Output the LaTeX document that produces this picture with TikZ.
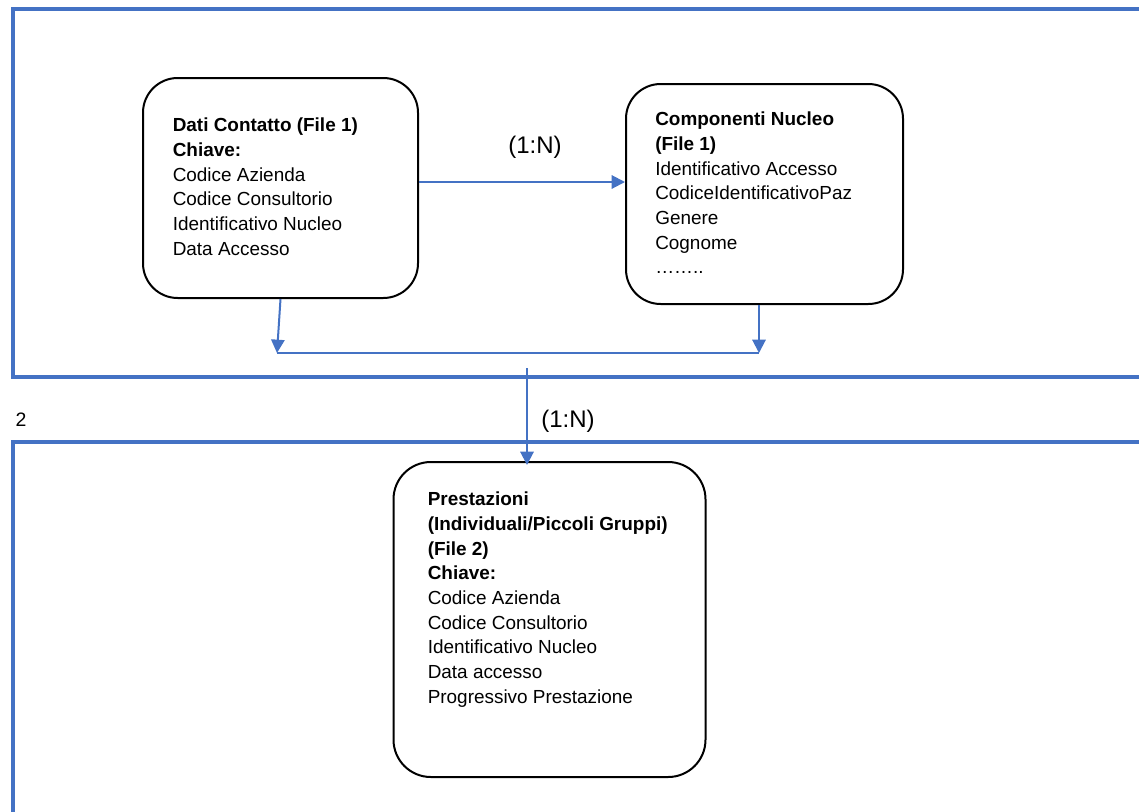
\documentclass[tikz,border=0pt]{standalone}
\usepackage{fontspec}
\setmainfont{Liberation Sans}
\usetikzlibrary{arrows.meta}
\definecolor{wordblue}{HTML}{4472C4}

\begin{document}
\begin{tikzpicture}[x=0.75pt,y=-0.75pt,
    frame/.style={wordblue,line width=3pt},
    entity/.style={draw,line width=1.5pt,rounded corners=26pt,inner sep=0pt},
    fields/.style={anchor=north west,inner sep=0pt,align=left,font=\fontsize{14.2pt}{18.5pt}\selectfont},
    link/.style={wordblue,line width=1.5pt,-{Triangle[length=10pt,width=10pt]}},
    card/.style={font=\fontsize{18pt}{22pt}\selectfont}]
    \useasboundingbox (0,0) rectangle (1139,811);
    \clip (0,0) rectangle (1139,811);

    %sections
    \draw[frame] (1150,9) -- (12.5,9) -- (12.5,377) -- (1150,377);

    \draw[frame] (1150,441.5) -- (12.5,441.5) -- (12.5,820);

    \node[font=\fontsize{14.6pt}{17pt}\selectfont] (sez2) at (21,420) {2};

    %entities
    \node[entity,minimum width=206.25pt,minimum height=165pt] (contatto) at (280.5,188) {};

    \node[fields] (contattoTxt) at (172.5,118) {\textbf{Dati Contatto (File 1)}\\
        \textbf{Chiave:}\\ Codice Azienda\\ Codice Consultorio\\
        Identificativo Nucleo\\ Data Accesso};

    \node[entity,minimum width=207.75pt,minimum height=165pt] (nucleo) at (764.5,194) {};

    \node[fields] (nucleoTxt) at (655,112) {\textbf{Componenti Nucleo}\\
        \textbf{(File 1)}\\ Identificativo Accesso\\ CodiceIdentificativoPaz\\
        Genere\\ Cognome\\ ……..};

    \node[entity,minimum width=234pt,minimum height=236.25pt,rounded corners=28pt] (prestazioni) at (549.5,619.5) {};

    \node[fields] (prestazioniTxt) at (427.5,492) {\textbf{Prestazioni}\\
        \textbf{(Individuali/Piccoli Gruppi)}\\ \textbf{(File 2)}\\
        \textbf{Chiave:}\\ Codice Azienda\\ Codice Consultorio\\
        Identificativo Nucleo\\ Data accesso\\ Progressivo Prestazione};

    %links
    \coordinate (jl) at (277,353);
    \coordinate (jr) at (759,353);
    \coordinate (jm) at (527,368);

    \draw[link] ([yshift=4.5pt]contatto.east) -- ([yshift=4.5pt]contatto.east -| nucleo.west);

    \node[card] (rel1) at (535,147) {(1:N)};

    \draw[link] (contatto.south) -- (jl);

    \draw[link] (nucleo.south -| jr) -- (jr);

    \draw[wordblue,line width=1pt] (jl) -- (jr);

    \draw[link] (jm) -- ([yshift=-3pt]jm |- prestazioni.north);

    \node[card] (rel2) at (568,421) {(1:N)};
\end{tikzpicture}
\end{document}
